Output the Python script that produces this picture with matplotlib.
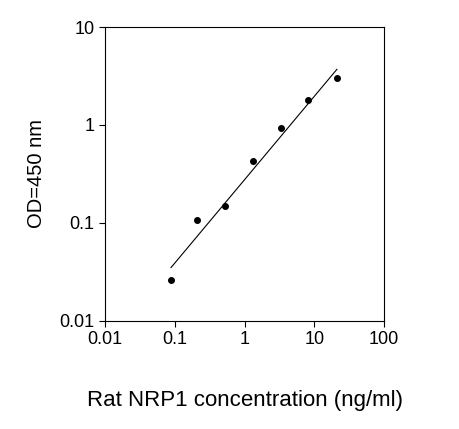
import matplotlib
matplotlib.use("Agg")
import matplotlib.pyplot as plt
import numpy as np

plt.rcParams['font.family'] = ['Liberation Sans', 'DejaVu Sans']

conc = [0.088, 0.21, 0.52, 1.3, 3.3, 8.2, 21]
od = [0.026, 0.107, 0.15, 0.43, 0.93, 1.8, 3.0]

# fitted line ends
line_x = [0.088, 21]
line_y = [0.035, 3.7]

fig = plt.figure(figsize=(4.59, 4.29), dpi=100)
ax = fig.add_axes([0.229, 0.252, 0.608, 0.685])
ax.plot(line_x, line_y, color='black', lw=0.8)
ax.plot(conc, od, 'o', color='black', ms=4)
ax.set_xscale('log')
ax.set_yscale('log')
ax.set_xlim(0.01, 100)
ax.set_ylim(0.01, 10)
ax.set_xticks([0.01, 0.1, 1, 10, 100])
ax.set_xticklabels(['0.01', '0.1', '1', '10', '100'])
ax.set_yticks([0.01, 0.1, 1, 10])
ax.set_yticklabels(['0.01', '0.1', '1', '10'])
ax.minorticks_off()
ax.tick_params(labelsize=13, length=4)
ax.set_xlabel('Rat NRP1 concentration (ng/ml)', fontsize=16, labelpad=30)
ax.set_ylabel('OD=450 nm', fontsize=14.5, labelpad=10)
fig.savefig('out.png', dpi=100)
